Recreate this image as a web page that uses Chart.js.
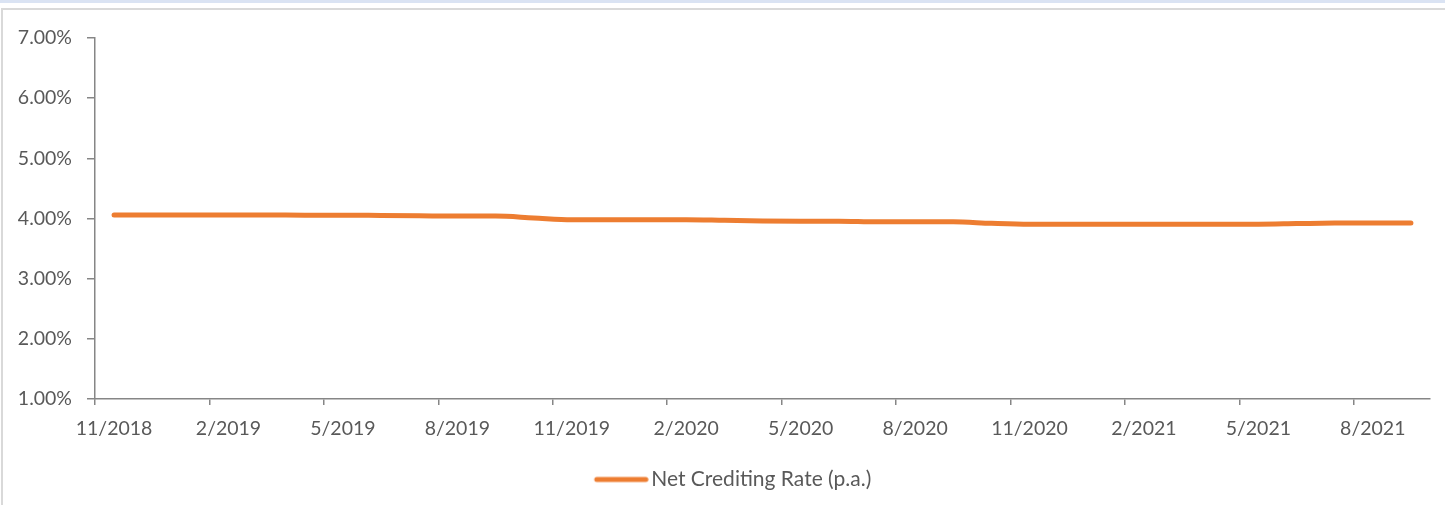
<!DOCTYPE html>
<html>
<head>
<meta charset="utf-8">
<script src="https://cdn.jsdelivr.net/npm/chart.js@4"></script>
<style>
  html, body { margin: 0; padding: 0; background: #fff; overflow: hidden; }
  body { width: 1445px; height: 505px; position: relative; }
  .band { position: absolute; left: 0; top: 0; width: 1445px; height: 3px; background: #dae3f3; }
  .frame { position: absolute; left: 1px; top: 8px; width: 1470px; height: 520px; border: 2px solid #d9d9d9; box-sizing: border-box; }
  #chart { position: absolute; left: 0; top: 0; }
</style>
</head>
<body>
<div class="band"></div>
<div class="frame"></div>
<canvas id="chart" width="1445" height="505"></canvas>
<script>
const months = [
    '11/2018', '12/2018', '1/2019', '2/2019', '3/2019', '4/2019', '5/2019', '6/2019', '7/2019', '8/2019', '9/2019', '10/2019',
    '11/2019', '12/2019', '1/2020', '2/2020', '3/2020', '4/2020', '5/2020', '6/2020', '7/2020', '8/2020', '9/2020', '10/2020',
    '11/2020', '12/2020', '1/2021', '2/2021', '3/2021', '4/2021', '5/2021', '6/2021', '7/2021', '8/2021', '9/2021'
];
const netCreditingRate = [
    4.06, 4.06, 4.06, 4.06, 4.06, 4.055, 4.055, 4.05, 4.045, 4.04, 4.04, 4.01,
    3.98, 3.98, 3.98, 3.98, 3.97, 3.96, 3.955, 3.955, 3.945, 3.945, 3.945, 3.92,
    3.905, 3.905, 3.905, 3.905, 3.905, 3.905, 3.905, 3.915, 3.925, 3.927, 3.927
];
const yTicks = [1, 2, 3, 4, 5, 6, 7];
const seriesName = 'Net Crediting Rate (p.a.)';

const lineColor = '#ed7d31';
const textColor = '#595959';
const axisColor = '#868686';
const font = { family: 'Lato', size: 19.5 };

Chart.defaults.font.family = 'Lato';
Chart.defaults.color = textColor;

// legend mark: a short thick line that reaches close to the text, like Excel draws it
const legendMark = document.createElement('canvas');
legendMark.width = 66;
legendMark.height = 8;
const lm = legendMark.getContext('2d');
lm.strokeStyle = lineColor;
lm.lineWidth = 5;
lm.lineCap = 'round';
lm.beginPath();
lm.moveTo(14, 4);
lm.lineTo(63, 4);
lm.stroke();

// nudge the legend a little right, to where the reference centres it
const shiftLegend = {
    id: 'shiftLegend',
    afterLayout(chart) {
        chart.legend.left += 16;
        chart.legend.right += 16;
    }
};

const ctx = document.getElementById('chart').getContext('2d');

new Chart(ctx, {
    type: 'line',
    data: {
        labels: months,
        datasets: [{
            label: seriesName,
            data: netCreditingRate,
            borderColor: lineColor,
            backgroundColor: lineColor,
            borderWidth: 5,
            borderCapStyle: 'round',
            borderJoinStyle: 'round',
            cubicInterpolationMode: 'monotone',
            pointRadius: 0,
            fill: false
        }]
    },
    options: {
        responsive: false,
        animation: false,
        devicePixelRatio: 1,
        layout: { padding: { left: 0, right: 15, top: 38, bottom: 5 } },
        scales: {
            x: {
                offset: true,
                grid: {
                    offset: true,
                    drawOnChartArea: false,
                    drawTicks: true,
                    tickLength: 6,
                    lineWidth: 1.5,
                    tickColor: c => (c.index % 3 === 0 ? axisColor : 'rgba(0,0,0,0)')
                },
                border: { display: true, color: axisColor, width: 1.5 },
                ticks: {
                    autoSkip: false,
                    maxRotation: 0,
                    padding: 12,
                    color: textColor,
                    font: font,
                    callback: (v, i) => (i % 3 === 0 ? months[i] : '')
                },
                afterFit: s => { s.height = 60; }
            },
            y: {
                min: yTicks[0],
                max: yTicks[yTicks.length - 1],
                afterBuildTicks: s => { s.ticks = yTicks.map(v => ({ value: v })); },
                grid: {
                    drawOnChartArea: false,
                    drawTicks: true,
                    tickLength: 8,
                    lineWidth: 1.5,
                    tickColor: axisColor
                },
                border: { display: true, color: axisColor, width: 1.5 },
                ticks: {
                    padding: 15,
                    color: textColor,
                    font: font,
                    callback: v => v.toFixed(2) + '%'
                },
                afterFit: s => { s.width = 95; }
            }
        },
        plugins: {
            legend: {
                position: 'bottom',
                labels: {
                    usePointStyle: true,
                    pointStyle: legendMark,
                    pointStyleWidth: 50,
                    padding: 10,
                    color: textColor,
                    font: { family: 'Lato', size: 21 }
                }
            },
            tooltip: { enabled: false }
        }
    },
    plugins: [shiftLegend]
});
</script>
</body>
</html>
